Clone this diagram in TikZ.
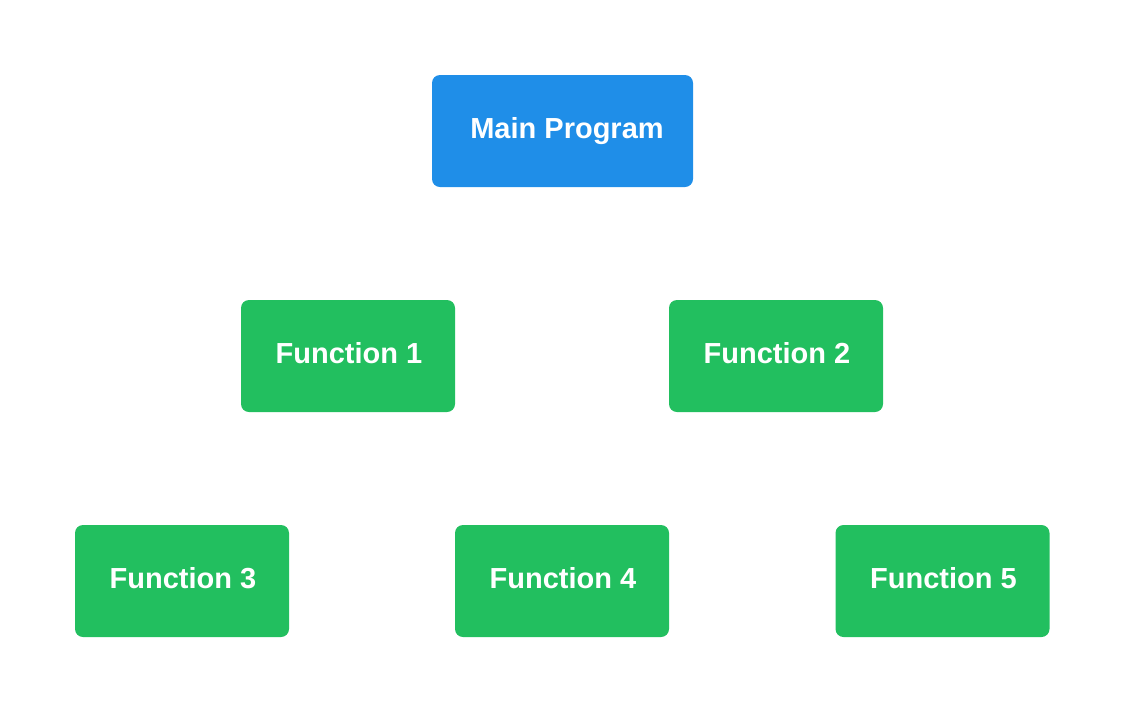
\documentclass[tikz,border=0pt]{standalone}
\usepackage{fontspec}
\setmainfont{Liberation Sans}
\definecolor{mainblue}{HTML}{1F8EE8}
\definecolor{fngreen}{HTML}{22BF5F}
\begin{document}
\begin{tikzpicture}[x=1pt,y=-1pt,
  box/.style={rounded corners=8pt, minimum width=214pt, minimum height=112pt, inner sep=0pt,
    text=white, font=\fontsize{29}{34}\selectfont\bfseries},
  fbox/.style={box, fill=fngreen, text height=14.5pt, text depth=0pt},
  mbox/.style={box, fill=mainblue, minimum width=261pt}]
\useasboundingbox (0,0) rectangle (1125,713);
\node[mbox] (main) at (562.5,131) {\hspace{9pt}Main Program};
\node[fbox] (f1) at (348,356) {\hspace{2pt}Function 1};
\node[fbox] (f2) at (776,356) {\hspace{2pt}Function 2};
\node[fbox] (f3) at (182,581) {\hspace{2pt}Function 3};
\node[fbox] (f4) at (562,581) {\hspace{2pt}Function 4};
\node[fbox] (f5) at (942.5,581) {\hspace{2pt}Function 5};
\end{tikzpicture}
\end{document}
